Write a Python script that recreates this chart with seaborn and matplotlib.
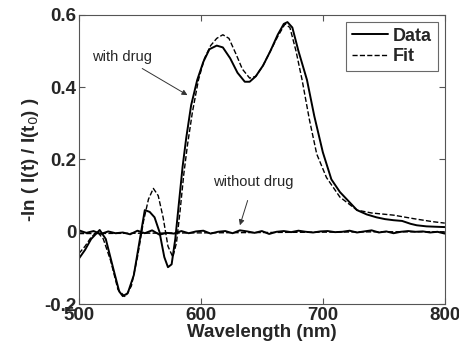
import pandas as pd
import matplotlib
matplotlib.use("Agg")
import matplotlib.pyplot as plt
import seaborn as sns

# with drug - measured
wl_data = [500, 505, 510, 517, 522, 528, 533, 536, 540, 545, 550, 554, 558, 562, 566, 570,
           573, 576, 579, 582, 585, 588, 592, 597, 602, 607, 613, 618, 624, 630, 636, 640,
           645, 651, 657, 663, 668, 671, 675, 680, 687, 693, 700, 707, 714, 721, 728, 736,
           744, 751, 758, 765, 772, 777, 785, 792, 800]
drug_data = [-0.074, -0.05, -0.02, 0.005, -0.02, -0.10, -0.165, -0.178, -0.17, -0.12, -0.02,
             0.06, 0.055, 0.04, 0.0, -0.07, -0.098, -0.09, -0.02, 0.08, 0.18, 0.26, 0.35,
             0.42, 0.47, 0.505, 0.515, 0.51, 0.48, 0.44, 0.415, 0.415, 0.43, 0.46, 0.5,
             0.545, 0.575, 0.58, 0.565, 0.5, 0.42, 0.32, 0.22, 0.145, 0.11, 0.085, 0.06,
             0.048, 0.04, 0.035, 0.032, 0.03, 0.022, 0.018, 0.015, 0.014, 0.013]

# with drug - fit
wl_fit = [500, 505, 510, 515, 520, 526, 532, 538, 543, 548, 553, 557, 561, 565, 569, 573,
          577, 580, 583, 586, 589, 593, 598, 603, 608, 613, 618, 623, 629, 634, 640, 645,
          651, 657, 663, 669, 673, 678, 683, 689, 695, 703, 714, 728, 740, 758, 775, 790, 800]
drug_fit = [-0.06, -0.04, -0.015, 0.0, -0.02, -0.08, -0.16, -0.18, -0.15, -0.07, 0.03,
            0.09, 0.12, 0.1, 0.04, -0.04, -0.07, -0.03, 0.06, 0.16, 0.24, 0.33, 0.42, 0.48,
            0.515, 0.535, 0.545, 0.535, 0.49, 0.45, 0.425, 0.43, 0.46, 0.5, 0.54, 0.575,
            0.565, 0.5, 0.42, 0.31, 0.215, 0.15, 0.096, 0.06, 0.052, 0.046, 0.036, 0.028, 0.024]

# without drug
wl_nodrug = [500, 506, 512, 518, 524, 530, 536, 542, 548, 554, 560, 566, 572, 578, 584, 590,
             596, 602, 608, 614, 620, 626, 632, 638, 644, 650, 656, 662, 668, 674, 680, 686,
             692, 698, 704, 710, 716, 722, 728, 734, 740, 746, 752, 758, 764, 770, 776, 782,
             788, 794, 800]
nodrug_data = [0.004, -0.003, 0.002, -0.006, 0.001, -0.004, -0.002, -0.007, 0.003, -0.004,
               0.004, -0.008, -0.003, -0.005, 0.002, -0.004, 0.001, 0.003, -0.005, 0.0,
               0.002, -0.004, 0.004, 0.001, -0.003, 0.002, -0.006, 0.0, 0.002, -0.001,
               0.003, 0.0, -0.002, 0.001, 0.002, -0.001, 0.0, 0.003, -0.002, 0.001,
               0.004, -0.002, 0.001, -0.004, 0.0, 0.002, 0.0, 0.001, -0.002, 0.0, -0.005]
wl_nodrug_fit = [500, 550, 600, 650, 700, 750, 800]
nodrug_fit = [-0.005, -0.004, -0.003, -0.002, -0.001, 0.0, 0.0]

sns.set_style("ticks")
plt.rcParams['font.family'] = ['Liberation Sans', 'DejaVu Sans']

fig = plt.figure(figsize=(4.59, 3.54), dpi=100)
ax = fig.add_axes([0.172, 0.141, 0.797, 0.817])

sns.lineplot(x=wl_data, y=drug_data, ax=ax, color="black", lw=1.4, label="Data")
sns.lineplot(x=wl_fit, y=drug_fit, ax=ax, color="black", lw=1.0, ls="--", label="Fit")
sns.lineplot(x=wl_nodrug, y=nodrug_data, ax=ax, color="black", lw=1.4)
sns.lineplot(x=wl_nodrug_fit, y=nodrug_fit, ax=ax, color="black", lw=1.0, ls="--")

ax.set_xlim(500, 800)
ax.set_ylim(-0.2, 0.6)
ax.set_xticks([500, 600, 700, 800])
ax.set_yticks([-0.2, 0, 0.2, 0.4, 0.6])
ax.set_yticklabels(["-0.2", "0", "0.2", "0.4", "0.6"])
ax.tick_params(direction="in", top=True, right=True, length=4, width=0.8,
               color="#555555", labelsize=13.5, pad=2)
for lbl in ax.get_xticklabels() + ax.get_yticklabels():
    lbl.set_fontweight("bold")
for s in ax.spines.values():
    s.set_color("#555555")
    s.set_linewidth(0.8)

ax.set_xlabel("Wavelength (nm)", fontsize=13.5, fontweight="bold", labelpad=0)
ax.set_ylabel(r"-ln ( I(t) / I(t$_0$) )", fontsize=13.5, fontweight="bold", labelpad=2)

ax.annotate("with drug", xy=(589, 0.378), xytext=(511, 0.484), fontsize=10.5,
            va="center", ha="left",
            arrowprops=dict(arrowstyle="-|>", color="#333333", lw=0.7,
                            shrinkA=2, shrinkB=0, mutation_scale=8))
ax.annotate("without drug", xy=(632, 0.018), xytext=(643, 0.137), fontsize=10.5,
            va="center", ha="center",
            arrowprops=dict(arrowstyle="-|>", color="#333333", lw=0.7,
                            shrinkA=6, shrinkB=0, mutation_scale=8))

leg = ax.legend(loc="upper right", fontsize=13, frameon=True, fancybox=False,
                handlelength=2.0, borderaxespad=0.4, labelspacing=0.2,
                borderpad=0.3, handletextpad=0.3)
leg.get_frame().set_edgecolor("#444444")
leg.get_frame().set_linewidth(0.8)
for t in leg.get_texts():
    t.set_fontweight("bold")

fig.savefig("out.png", dpi=100)
